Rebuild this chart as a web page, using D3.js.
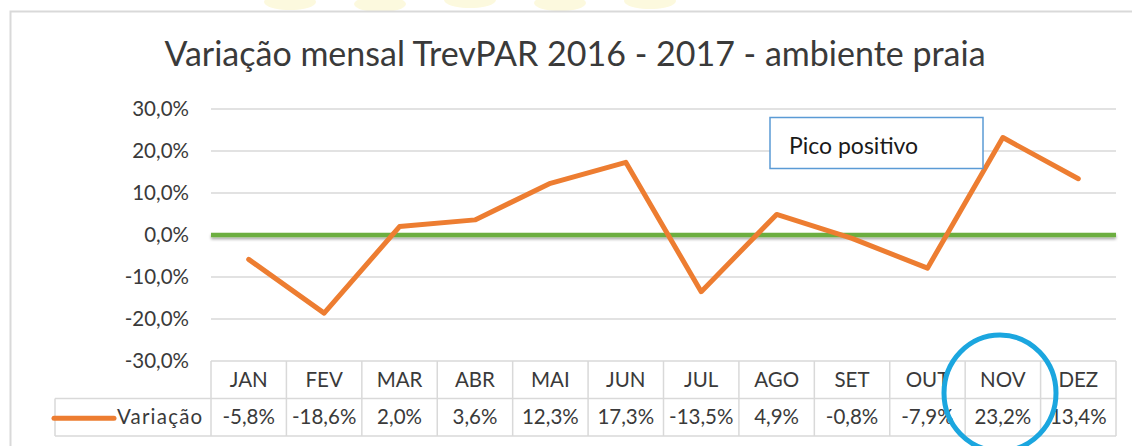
<!DOCTYPE html>
<html><head><meta charset="utf-8">
<script src="https://cdn.jsdelivr.net/npm/d3@7"></script>
<style>
html,body{margin:0;padding:0;background:#fff;}
svg{display:block;font-family:Lato, "Open Sans", sans-serif;}
</style></head>
<body><svg id="c" width="1132" height="446"></svg>
<script>
const months = ["JAN","FEV","MAR","ABR","MAI","JUN","JUL","AGO","SET","OUT","NOV","DEZ"];
const variacao = [-5.8,-18.6,2.0,3.6,12.3,17.3,-13.5,4.9,-0.8,-7.9,23.2,13.4];
const yTicks = [30,20,10,0,-10,-20,-30];
const seriesName = "Variação";
const titleText = "Variação mensal TrevPAR 2016 - 2017 - ambiente praia";
const noteText = "Pico positivo";

const svg = d3.select("#c");
const fmt = v => v.toFixed(1).replace(".", ",") + "%";
const txt = "#3a3a3a";

// faint background watermark above the frame
const wm = svg.append("g").attr("fill","#fcf8d6").attr("opacity",0.8);
[[290,2],[380,4],[470,0],[560,3],[650,1]].forEach(([cx,cy])=>{
  wm.append("ellipse").attr("cx",cx).attr("cy",cy).attr("rx",26).attr("ry",8);
});
svg.append("rect").attr("x",0).attr("y",11).attr("width",1132).attr("height",435).attr("fill","#fff");

// chart frame
svg.append("path").attr("d","M10.5,460 V11.5 H1140").attr("fill","none").attr("stroke","#d9d9d9").attr("stroke-width",2);

svg.append("text").attr("x",575).attr("y",66).attr("text-anchor","middle")
  .attr("font-size",34).attr("fill",txt).text(titleText);

const x = d3.scaleBand().domain(months).range([211,1116]);
const y = d3.scaleLinear().domain([-30,30]).range([361,109]);

// gridlines
svg.append("g").selectAll("line").data(yTicks.filter(d=>d!==0 && d!==-30)).join("line")
  .attr("x1",211).attr("x2",1116).attr("y1",d=>y(d)).attr("y2",d=>y(d))
  .attr("stroke","#d9d9d9").attr("stroke-width",1.5);

// y axis labels
const yAxis = d3.axisLeft(y).tickValues(yTicks).tickSize(0).tickPadding(0).tickFormat(fmt);
const ga = svg.append("g").attr("transform","translate(189,0)").call(yAxis);
ga.select(".domain").remove();
ga.selectAll("text").attr("font-size",20.5).attr("fill",txt).attr("font-family","Lato, sans-serif");

// shadow filter
const defs = svg.append("defs");
const f = defs.append("filter").attr("id","sh").attr("filterUnits","userSpaceOnUse")
  .attr("x",200).attr("y",220).attr("width",930).attr("height",30);
f.append("feGaussianBlur").attr("in","SourceAlpha").attr("stdDeviation",1.5);
f.append("feOffset").attr("dx",0).attr("dy",2).attr("result","ob");
f.append("feComponentTransfer").append("feFuncA").attr("type","linear").attr("slope",0.35);
const m = f.append("feMerge"); m.append("feMergeNode"); m.append("feMergeNode").attr("in","SourceGraphic");

// zero line
svg.append("line").attr("x1",211).attr("x2",1116).attr("y1",y(0)).attr("y2",y(0))
  .attr("stroke","#6cae40").attr("stroke-width",4.5).attr("filter","url(#sh)");

// series line
const line = d3.line().x((d,i)=>x(months[i])+x.bandwidth()/2).y(d=>y(d));
svg.append("path").datum(variacao).attr("d",line).attr("fill","none")
  .attr("stroke","#ed7d31").attr("stroke-width",5).attr("stroke-linejoin","round").attr("stroke-linecap","round");

// data table
const rowTop = 361, rowH = 37.5;
const tg = svg.append("g").attr("stroke","#d9d9d9").attr("stroke-width",1.5).attr("fill","none");
tg.append("line").attr("x1",211).attr("x2",1116).attr("y1",rowTop).attr("y2",rowTop);
tg.append("line").attr("x1",55).attr("x2",1116).attr("y1",rowTop+rowH).attr("y2",rowTop+rowH);
tg.append("line").attr("x1",55).attr("x2",1116).attr("y1",rowTop+2*rowH).attr("y2",rowTop+2*rowH);
tg.append("line").attr("x1",55).attr("x2",55).attr("y1",rowTop+rowH).attr("y2",rowTop+2*rowH);
tg.selectAll(".v").data(months.concat(["_end"])).join("line")
  .attr("x1",(d,i)=>211+i*x.bandwidth()).attr("x2",(d,i)=>211+i*x.bandwidth())
  .attr("y1",rowTop).attr("y2",rowTop+2*rowH);

svg.append("g").selectAll("text").data(months).join("text")
  .attr("x",d=>x(d)+x.bandwidth()/2).attr("y",rowTop+rowH/2+7).attr("text-anchor","middle")
  .attr("font-size",20.5).attr("fill",txt).text(d=>d);
svg.append("g").selectAll("text").data(variacao).join("text")
  .attr("x",(d,i)=>x(months[i])+x.bandwidth()/2).attr("y",rowTop+rowH*1.5+7).attr("text-anchor","middle")
  .attr("font-size",20.5).attr("fill",txt).text(d=>fmt(d));

// legend key
svg.append("line").attr("x1",54).attr("x2",114).attr("y1",rowTop+rowH*1.5+1).attr("y2",rowTop+rowH*1.5+1)
  .attr("stroke","#ed7d31").attr("stroke-width",5).attr("stroke-linecap","round");
svg.append("text").attr("x",117).attr("y",rowTop+rowH*1.5+7).attr("font-size",20.5)
  .attr("letter-spacing",1.2).attr("fill",txt).text(seriesName);

// note box
svg.append("rect").attr("x",770).attr("y",117.5).attr("width",213).attr("height",51)
  .attr("fill","#fff").attr("stroke","#5b9bd5").attr("stroke-width",1.5);
svg.append("text").attr("x",789).attr("y",154).attr("font-size",23).attr("fill","#1a1a1a").text(noteText);

// highlight circle
svg.append("ellipse").attr("cx",1000).attr("cy",393).attr("rx",56).attr("ry",58)
  .attr("fill","none").attr("stroke","#1ba6df").attr("stroke-width",5);
</script></body></html>
